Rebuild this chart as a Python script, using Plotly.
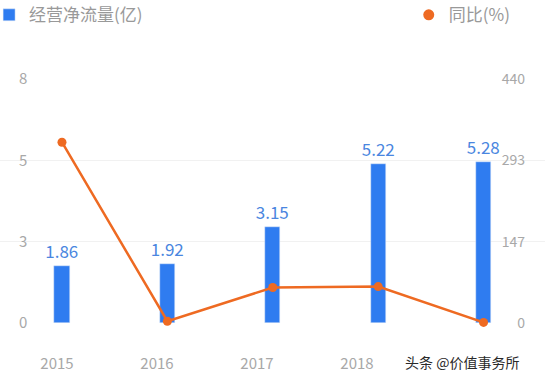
import plotly.graph_objects as go

years = ["2015", "2016", "2017", "2018", "2019"]
tick_years = ["2015", "2016", "2017", "2018", ""]
cash_flow = [1.86, 1.92, 3.15, 5.22, 5.28]
cash_labels = ["1.86", "1.92", "3.15", "5.22", "5.28"]
yoy = [326, 3.2, 64, 65.7, 1.1]
left_ticks = [0, 8 / 3, 16 / 3, 8]
left_text = ["0", "3", "5", "8"]
right_ticks = [0, 440 / 3, 880 / 3, 440]
right_text = ["0", "147", "293", "440"]

BLUE = "#2f7cf0"
ORANGE = "#ee6a22"
GREY = "#a8a8a8"
FONT = "Noto Sans CJK SC, Noto Sans, sans-serif"

fig = go.Figure()
fig.add_bar(
    x=years, y=cash_flow, text=cash_labels, textposition="outside",
    constraintext="none", cliponaxis=False, marker_color=BLUE, width=0.145,
    name="经营净流量(亿)", legend="legend", showlegend=True,
    textfont=dict(color="#4a86e0", size=17, family=FONT), hoverinfo="skip",
)
fig.add_scatter(
    x=years, y=yoy, yaxis="y2", mode="lines+markers",
    line=dict(color=ORANGE, width=2.5), marker=dict(color=ORANGE, size=9),
    showlegend=False, cliponaxis=False,
)
fig.add_scatter(
    x=[None], y=[None], yaxis="y2", mode="markers",
    marker=dict(color=ORANGE, size=11), name="同比(%)", legend="legend2",
)
# carrier for the x tick labels
fig.add_scatter(x=years, y=[None] * 5, xaxis="x2", showlegend=False, hoverinfo="skip")

fig.update_layout(
    width=554, height=381,
    margin=dict(l=0, r=9, t=79, b=58, autoexpand=False),
    paper_bgcolor="white", plot_bgcolor="white",
    font=dict(family=FONT, color=GREY),
    bargap=0,
    xaxis=dict(range=[-0.588, 4.583], showticklabels=False, showgrid=False,
               zeroline=False, showline=False, fixedrange=True),
    xaxis2=dict(overlaying="x", anchor="y", side="bottom", range=[-0.57, 4.88],
                tickvals=years, ticktext=tick_years, ticks="outside", ticklen=27,
                tickcolor="rgba(0,0,0,0)", showgrid=False, zeroline=False,
                showline=False, tickfont=dict(size=15, color=GREY)),
    yaxis=dict(range=[0, 8], tickvals=left_ticks, ticktext=left_text,
               ticklabelposition="inside", ticklabelstandoff=16,
               ticklabeloverflow="allow",
               gridcolor="#f1f1f1", gridwidth=1, zeroline=False, showline=False,
               tickfont=dict(size=15, color=GREY)),
    yaxis2=dict(overlaying="y", side="right", range=[0, 440], tickvals=right_ticks,
                ticktext=right_text, ticklabelposition="inside", ticklabelstandoff=17,
                ticklabeloverflow="allow",
                showgrid=False, zeroline=False, showline=False,
                tickfont=dict(size=14, color=GREY)),
    legend=dict(x=-0.02, y=1.335, xanchor="left", yanchor="top",
                font=dict(size=17, color="#999999"), bgcolor="rgba(0,0,0,0)"),
    legend2=dict(x=0.75, y=1.335, xanchor="left", yanchor="top",
                 font=dict(size=17, color="#999999"), bgcolor="rgba(0,0,0,0)"),
    annotations=[dict(text="头条 @价值事务所", xref="paper", yref="paper",
                      x=0.848, y=-0.16, xanchor="center", yanchor="middle",
                      showarrow=False,
                      font=dict(size=14, color="#2a2a2a", family=FONT))],
)

fig.write_html("out.html", config={"displayModeBar": False},
               post_script="document.body.style.margin='0';")
